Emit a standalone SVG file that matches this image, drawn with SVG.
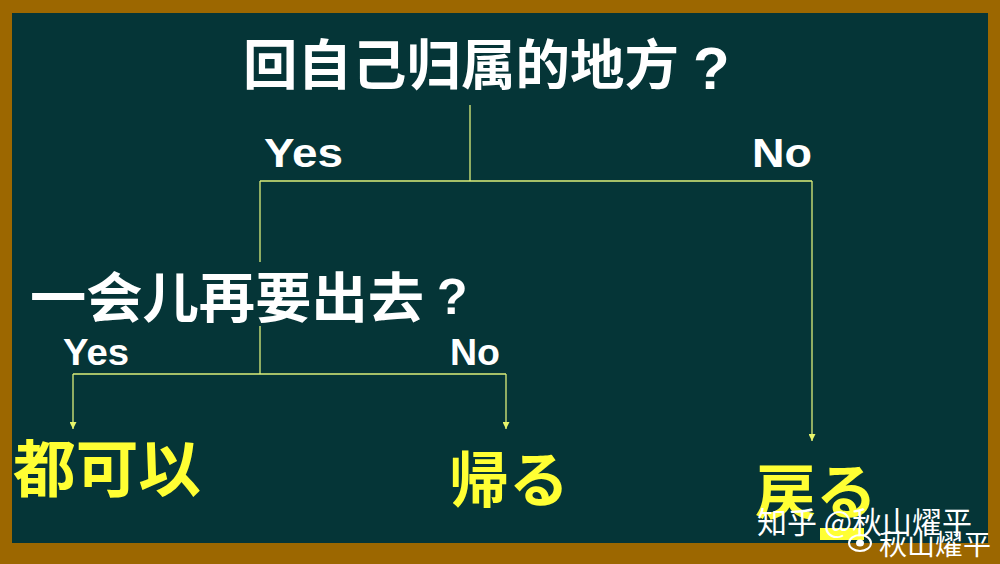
<svg xmlns="http://www.w3.org/2000/svg" width="1000" height="564" viewBox="0 0 1000 564">
<defs>
<style>
.q{font-family:"Noto Sans CJK SC","Noto Sans CJK JP",sans-serif;font-weight:700;fill:#ffffff}
.lat{font-family:"Liberation Sans",Arial,sans-serif;font-weight:700;fill:#ffffff}
.leaf{font-family:"Noto Sans CJK JP","Noto Sans CJK SC",sans-serif;font-weight:700;fill:#ffff33}
.wm{font-family:"Noto Sans CJK SC",sans-serif;font-weight:400;fill:#ffffff}
.ln{stroke:#dcef7a;stroke-width:1.3;fill:none}
</style>
<marker id="ah" viewBox="0 0 10 10" refX="10" refY="5" markerWidth="7" markerHeight="7" markerUnits="userSpaceOnUse" orient="auto">
<path d="M0,0 L10,5 L0,10 z" fill="#e8f56a"/>
</marker>
</defs>
<rect x="0" y="0" width="1000" height="564" fill="#9c6700"/>
<rect x="12" y="13" width="976" height="530" fill="#053537"/>
<g id="connectors">
<path class="ln" d="M470,105 V181"/>
<path class="ln" d="M260,181 H812"/>
<path class="ln" d="M260,181 V262"/>
<path class="ln" d="M812,181 V441" marker-end="url(#ah)"/>
<path class="ln" d="M260,326 V374"/>
<path class="ln" d="M73,374 H506"/>
<path class="ln" d="M73,374 V429" marker-end="url(#ah)"/>
<path class="ln" d="M506,374 V429" marker-end="url(#ah)"/>
</g>
<g id="q1">
<text class="q" x="243" y="85" font-size="54"><tspan textLength="436" lengthAdjust="spacingAndGlyphs">回自己归属的地方</tspan><tspan class="lat" x="693" y="89" style="font-size:60px">?</tspan></text>
</g>
<g id="label-yes1"><text class="lat" x="264" y="167" font-size="41" textLength="79" lengthAdjust="spacingAndGlyphs">Yes</text></g>
<g id="label-no1"><text class="lat" x="752" y="167" font-size="41" textLength="60" lengthAdjust="spacingAndGlyphs">No</text></g>
<g id="q2">
<text class="q" x="30" y="318" font-size="54"><tspan textLength="394" lengthAdjust="spacingAndGlyphs">一会儿再要出去</tspan><tspan class="lat" x="437" y="314" style="font-size:50px">?</tspan></text>
</g>
<g id="label-yes2"><text class="lat" x="63" y="365" font-size="36" textLength="66" lengthAdjust="spacingAndGlyphs">Yes</text></g>
<g id="label-no2"><text class="lat" x="450" y="365" font-size="36" textLength="50" lengthAdjust="spacingAndGlyphs">No</text></g>
<g id="leaf1"><text class="leaf" x="13" y="492" font-size="62" textLength="188" lengthAdjust="spacingAndGlyphs">都可以</text></g>
<g id="leaf2"><text class="leaf" x="449" y="502" font-size="60" textLength="120" lengthAdjust="spacingAndGlyphs">帰る</text></g>
<g id="leaf3"><text class="leaf" x="755" y="514" font-size="60" textLength="122" lengthAdjust="spacingAndGlyphs">戻る</text></g>
<g id="watermark">
<rect x="820" y="528" width="44" height="12" fill="#ffff33"/>
<text class="wm" x="757" y="533" font-size="30">知乎 @秋山燿平</text>
<ellipse cx="860" cy="543" rx="11" ry="8" fill="none" stroke="#ffffff" stroke-width="2"/>
<ellipse cx="860" cy="543" rx="4" ry="3.5" fill="#ffffff"/>
<text class="wm" x="879" y="555" font-size="28">秋山燿平</text>
</g>
</svg>
